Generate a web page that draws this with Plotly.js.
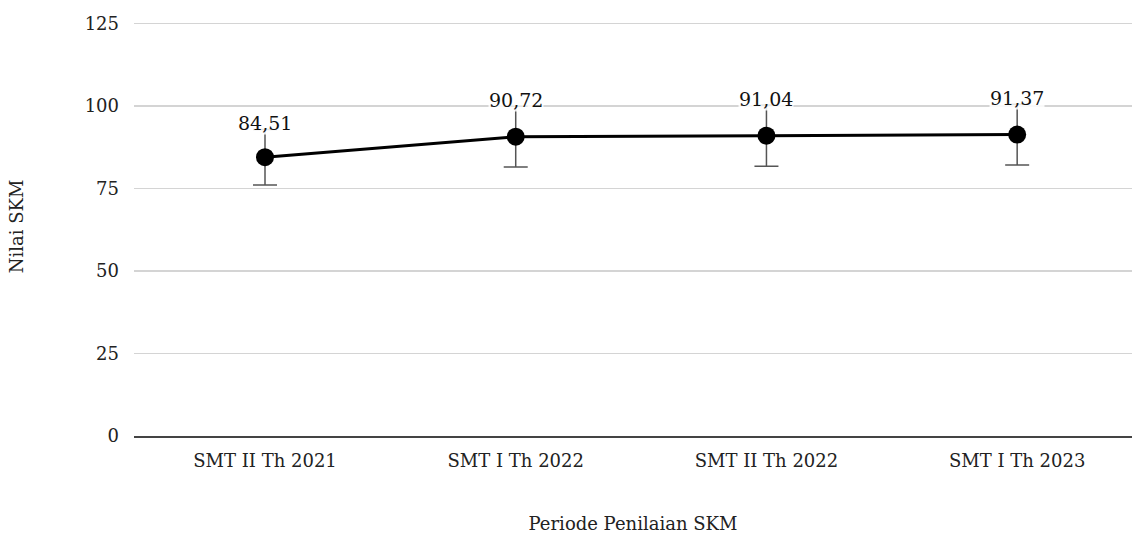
<!DOCTYPE html>
<html><head><meta charset="utf-8">
<script src="https://cdn.plot.ly/plotly-3.0.1.min.js"></script>
<style>html,body{margin:0;padding:0;background:#fff}#c{width:1132px;height:534px}</style>
</head><body><div id="c"></div>
<script>
const categories = ["SMT II Th 2021", "SMT I Th 2022", "SMT II Th 2022", "SMT I Th 2023"];
const values = [84.51, 90.72, 91.04, 91.37];
const errors = [8.4, 9.2, 9.3, 9.2];
const valueLabels = ["84,51", "90,72", "91,04", "91,37"];
const yTicks = [0, 25, 50, 75, 100, 125];

const FONT = "DejaVu Serif, Georgia, serif";
const xIdx = categories.map((c, i) => i);

const trace = {
  type: "scatter", mode: "lines+markers",
  x: xIdx, y: values,
  line: {color: "#000", width: 3},
  marker: {color: "#000", size: 18},
  error_y: {type: "data", array: errors, visible: true, color: "#555", thickness: 1.5, width: 12},
  hoverinfo: "skip"
};

const annotations = values.map((v, i) => ({
  x: i, y: v + errors[i], xref: "x", yref: "y",
  text: valueLabels[i], showarrow: false,
  yanchor: "bottom", yshift: -6,
  bgcolor: "rgba(255,255,255,0.85)", borderpad: 0,
  font: {family: FONT, size: 19, color: "#111"}
}));

const layout = {
  width: 1132, height: 534,
  margin: {l: 134, r: 0, t: 17, b: 98},
  paper_bgcolor: "#fff", plot_bgcolor: "#fff",
  showlegend: false,
  font: {family: FONT, size: 18, color: "#222"},
  xaxis: {
    range: [-0.5225, 3.458],
    tickvals: xIdx, ticktext: categories,
    showgrid: false, zeroline: false,
    showline: true, linecolor: "#444", linewidth: 1.5,
    ticks: "", ticklabelstandoff: 8,
    tickfont: {family: FONT, size: 18, color: "#222"},
    title: {text: "Periode Penilaian SKM", font: {family: FONT, size: 18, color: "#222"}, standoff: 48}
  },
  yaxis: {
    range: [0, 127],
    tickvals: yTicks, ticktext: yTicks.map(String),
    showgrid: true, gridcolor: "#d4d4d4", gridwidth: 1.5,
    zeroline: false, showline: false, ticks: "",
    ticklabelstandoff: 14,
    tickfont: {family: FONT, size: 18, color: "#222"},
    title: {text: "Nilai SKM", font: {family: FONT, size: 18, color: "#222"}, standoff: 56}
  },
  annotations: annotations
};

Plotly.newPlot("c", [trace], layout, {displayModeBar: false, staticPlot: true});
</script></body></html>
